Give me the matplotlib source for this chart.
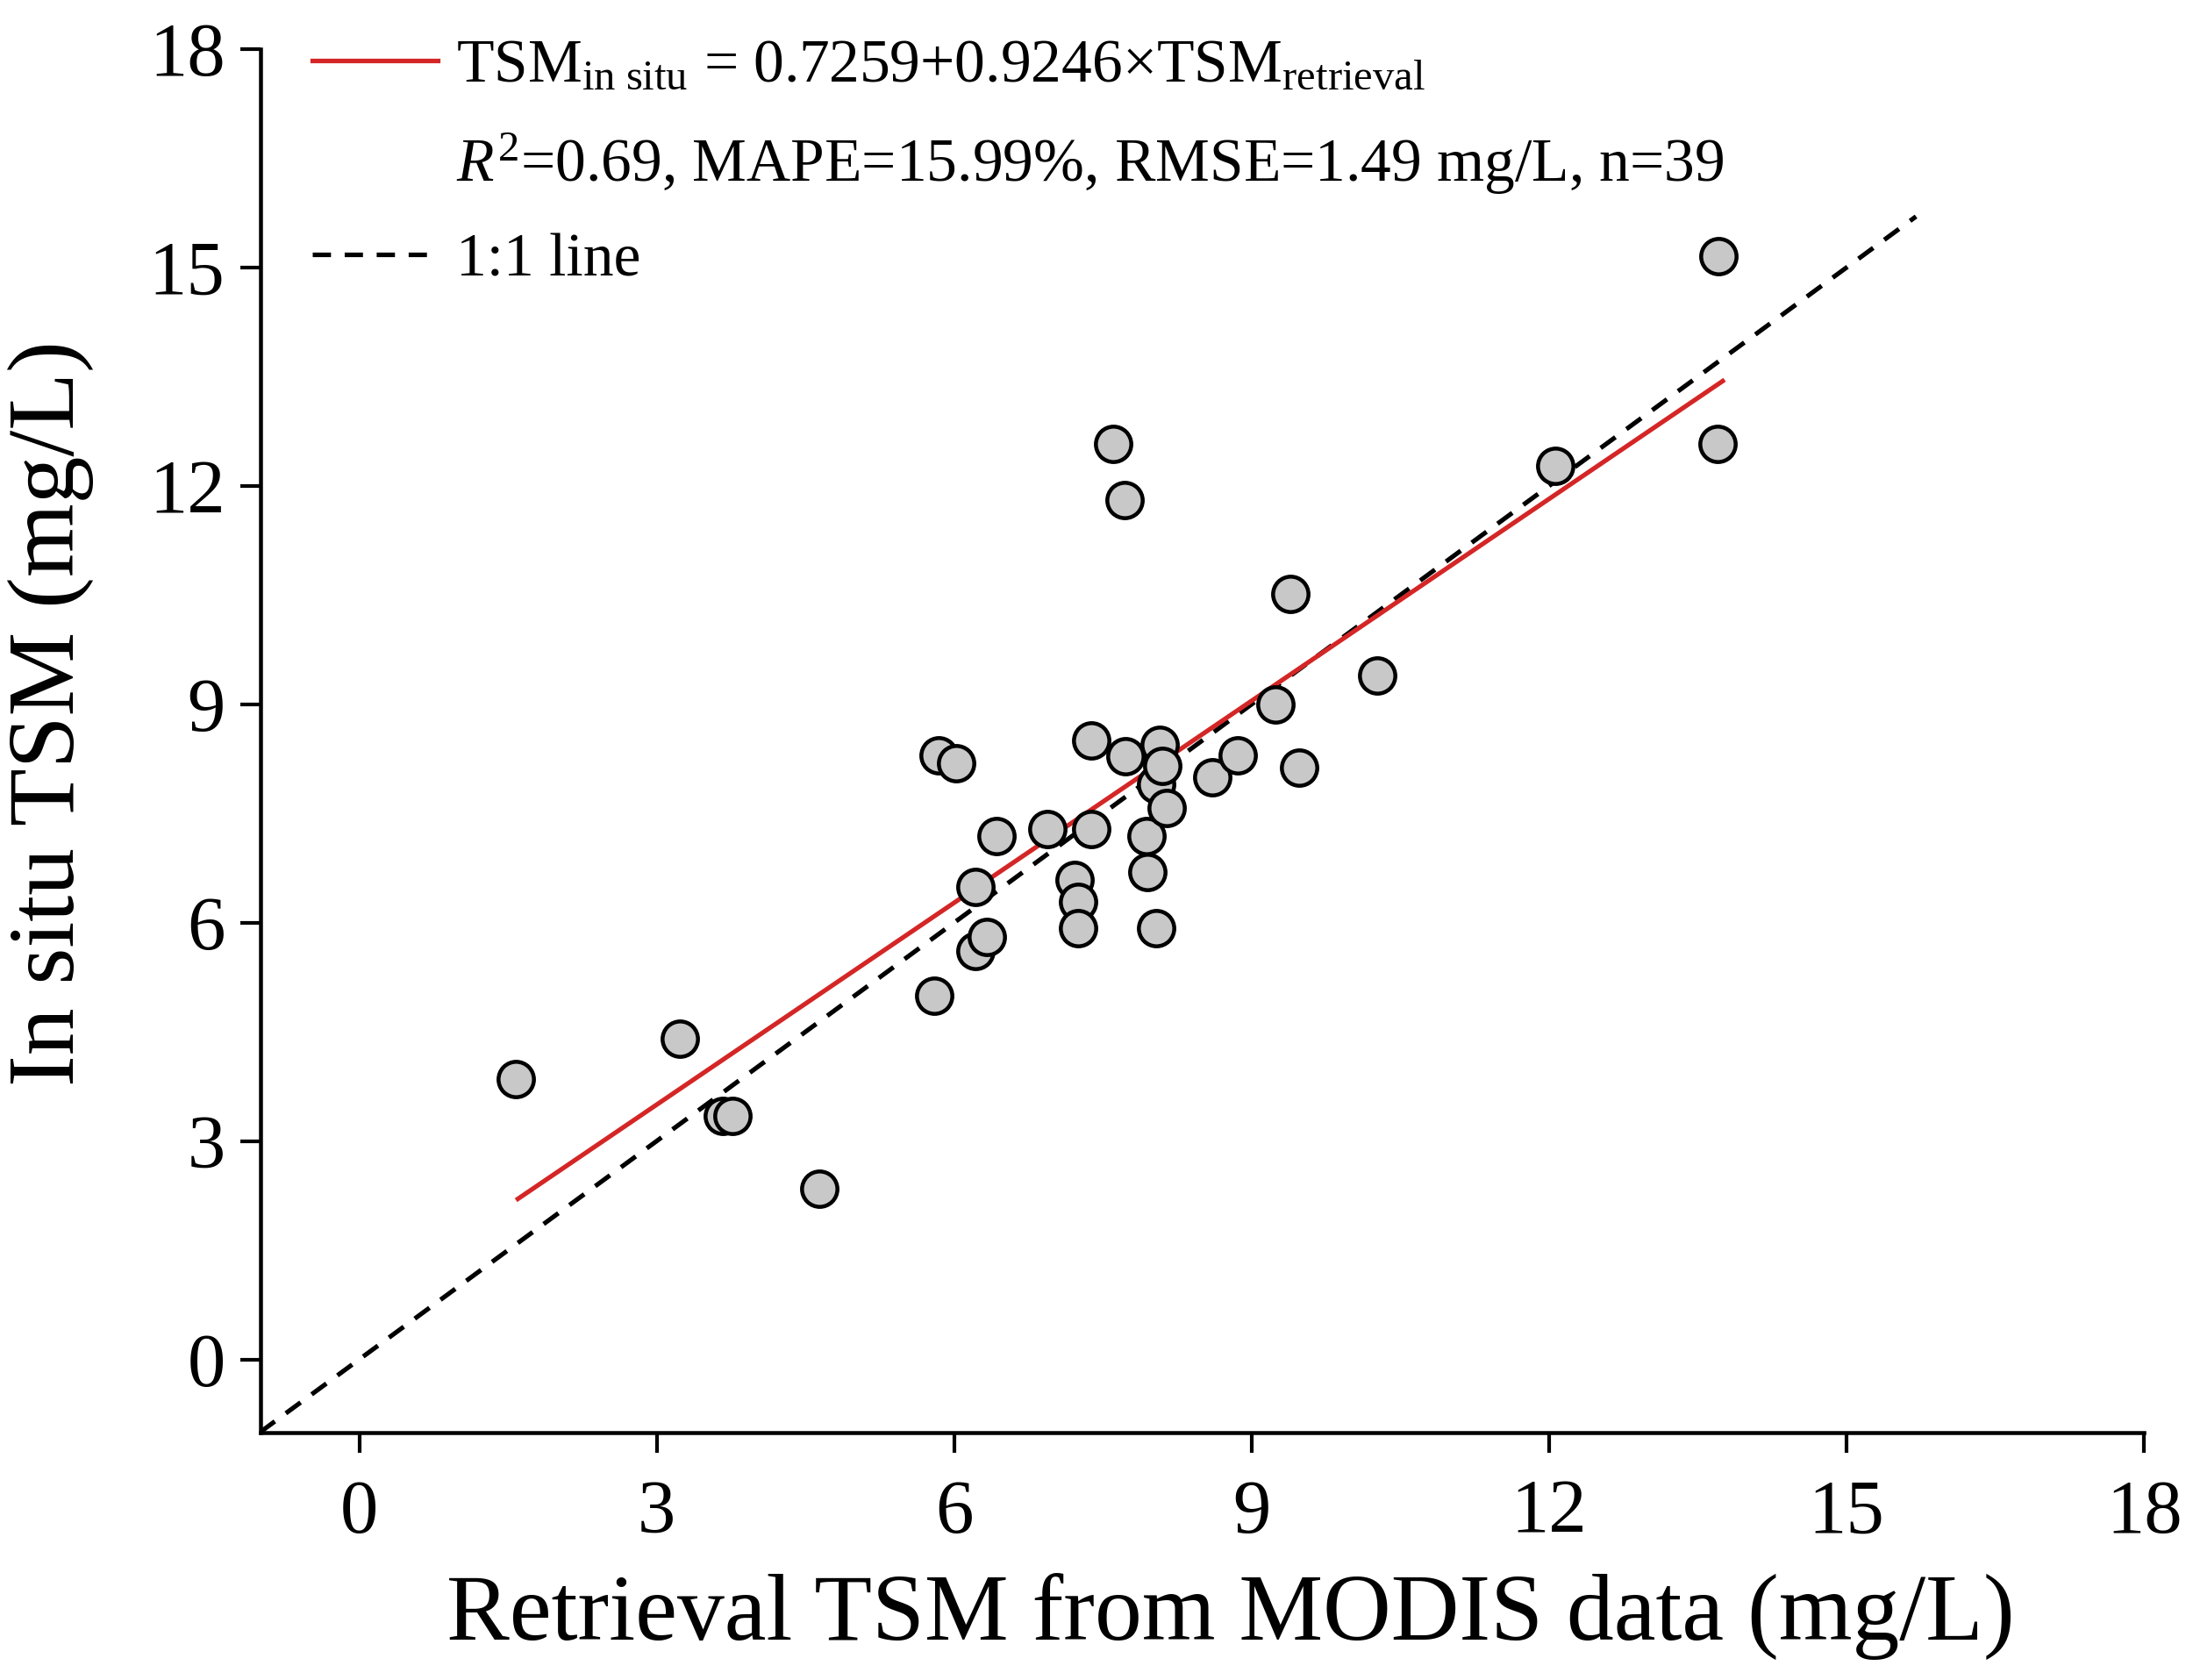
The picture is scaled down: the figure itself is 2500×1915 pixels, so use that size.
"""Scatter of in situ TSM against MODIS retrieval with fit and 1:1 line."""
import matplotlib
matplotlib.use("Agg")
import matplotlib.pyplot as plt
from matplotlib.lines import Line2D

plt.rcParams['font.family'] = ['Liberation Serif', 'DejaVu Serif']
plt.rcParams['mathtext.fontset'] = 'custom'
plt.rcParams['mathtext.rm'] = 'Liberation Serif'
plt.rcParams['mathtext.it'] = 'Liberation Serif:italic'

# retrieval TSM (x) and in situ TSM (y), mg/L
retrieval = [1.58, 3.23, 3.67, 3.76, 4.64, 5.80, 5.84, 6.02, 6.21, 6.21,
             6.33, 6.43, 6.94, 7.38, 7.38, 7.21, 7.25, 7.25, 7.60, 7.72,
             7.73, 7.94, 7.95, 8.04, 8.07, 8.04, 8.10, 8.14, 8.60, 8.86,
             9.24, 9.39, 9.48, 10.27, 12.06, 13.71, 13.70]
in_situ = [3.85, 4.41, 3.35, 3.35, 2.35, 4.99, 8.30, 8.19, 6.49, 5.61,
           5.80, 7.19, 7.28, 8.50, 7.28, 6.59, 6.28, 5.92, 12.58, 11.81,
           8.28, 7.19, 6.69, 5.92, 8.44, 7.90, 8.15, 7.57, 8.00, 8.30,
           9.00, 10.52, 8.13, 9.40, 12.27, 15.16, 12.58]

# regression from the figure's equation
intercept = 0.7259
slope = 0.9246
fit_x = [1.6, 13.75]
fit_y = [intercept + slope * x for x in fit_x]

one_to_one = [-1.0, 15.7]

ticks = [0, 3, 6, 9, 12, 15, 18]

RED = '#d42626'
DASH = (0, (4, 3))

fig = plt.figure(figsize=(10, 7.66), dpi=250)
ax = fig.add_axes([0.1186, 0.1475, 0.9777 - 0.1186, 0.9708 - 0.1475])

ax.plot(one_to_one, one_to_one, color='black', linestyle=DASH,
        linewidth=1.5, zorder=2)
ax.plot(fit_x, fit_y, color=RED, linewidth=1.5, zorder=3)
ax.scatter(retrieval, in_situ, s=135, facecolor='#c8c8c8',
           edgecolor='black', linewidth=1.3, zorder=4)

ax.set_xlim(-1, 18)
ax.set_ylim(-1, 18)
ax.set_xticks(ticks)
ax.set_yticks(ticks)
ax.spines['top'].set_visible(False)
ax.spines['right'].set_visible(False)
for side in ('left', 'bottom'):
    ax.spines[side].set_linewidth(1.3)
ax.tick_params(direction='out', length=6.5, width=1.2, labelsize=25, pad=5)
ax.tick_params(axis='x', pad=9)

ax.set_xlabel('Retrieval TSM from MODIS data (mg/L)', fontsize=31)
ax.xaxis.set_label_coords(0.515, -0.102)
ax.set_ylabel('In situ TSM (mg/L)', fontsize=31)
ax.yaxis.set_label_coords(-0.088, 0.52)

handles = [
    Line2D([], [], color=RED, linewidth=1.5),
    Line2D([], [], color='none'),
    Line2D([], [], color='black', linestyle=DASH, linewidth=1.5),
]
labels = [
    r'TSM$_{\mathrm{in\ situ}}$ = $\mathrm{0.725}\mathrm{9}$+0.9246$\times$TSM$_{\mathrm{retrieval}}$',
    r'$R^2$=0.69, MAPE=15.99%, RMSE=1.49 mg/L, n=39',
    '1:1 line',
]
ax.legend(handles, labels, loc='upper left', bbox_to_anchor=(0.015, 1.025),
          frameon=False, fontsize=20, handlelength=2.05, handletextpad=0.3,
          labelspacing=0.6, borderaxespad=0)

fig.savefig('out.png', dpi=250)
